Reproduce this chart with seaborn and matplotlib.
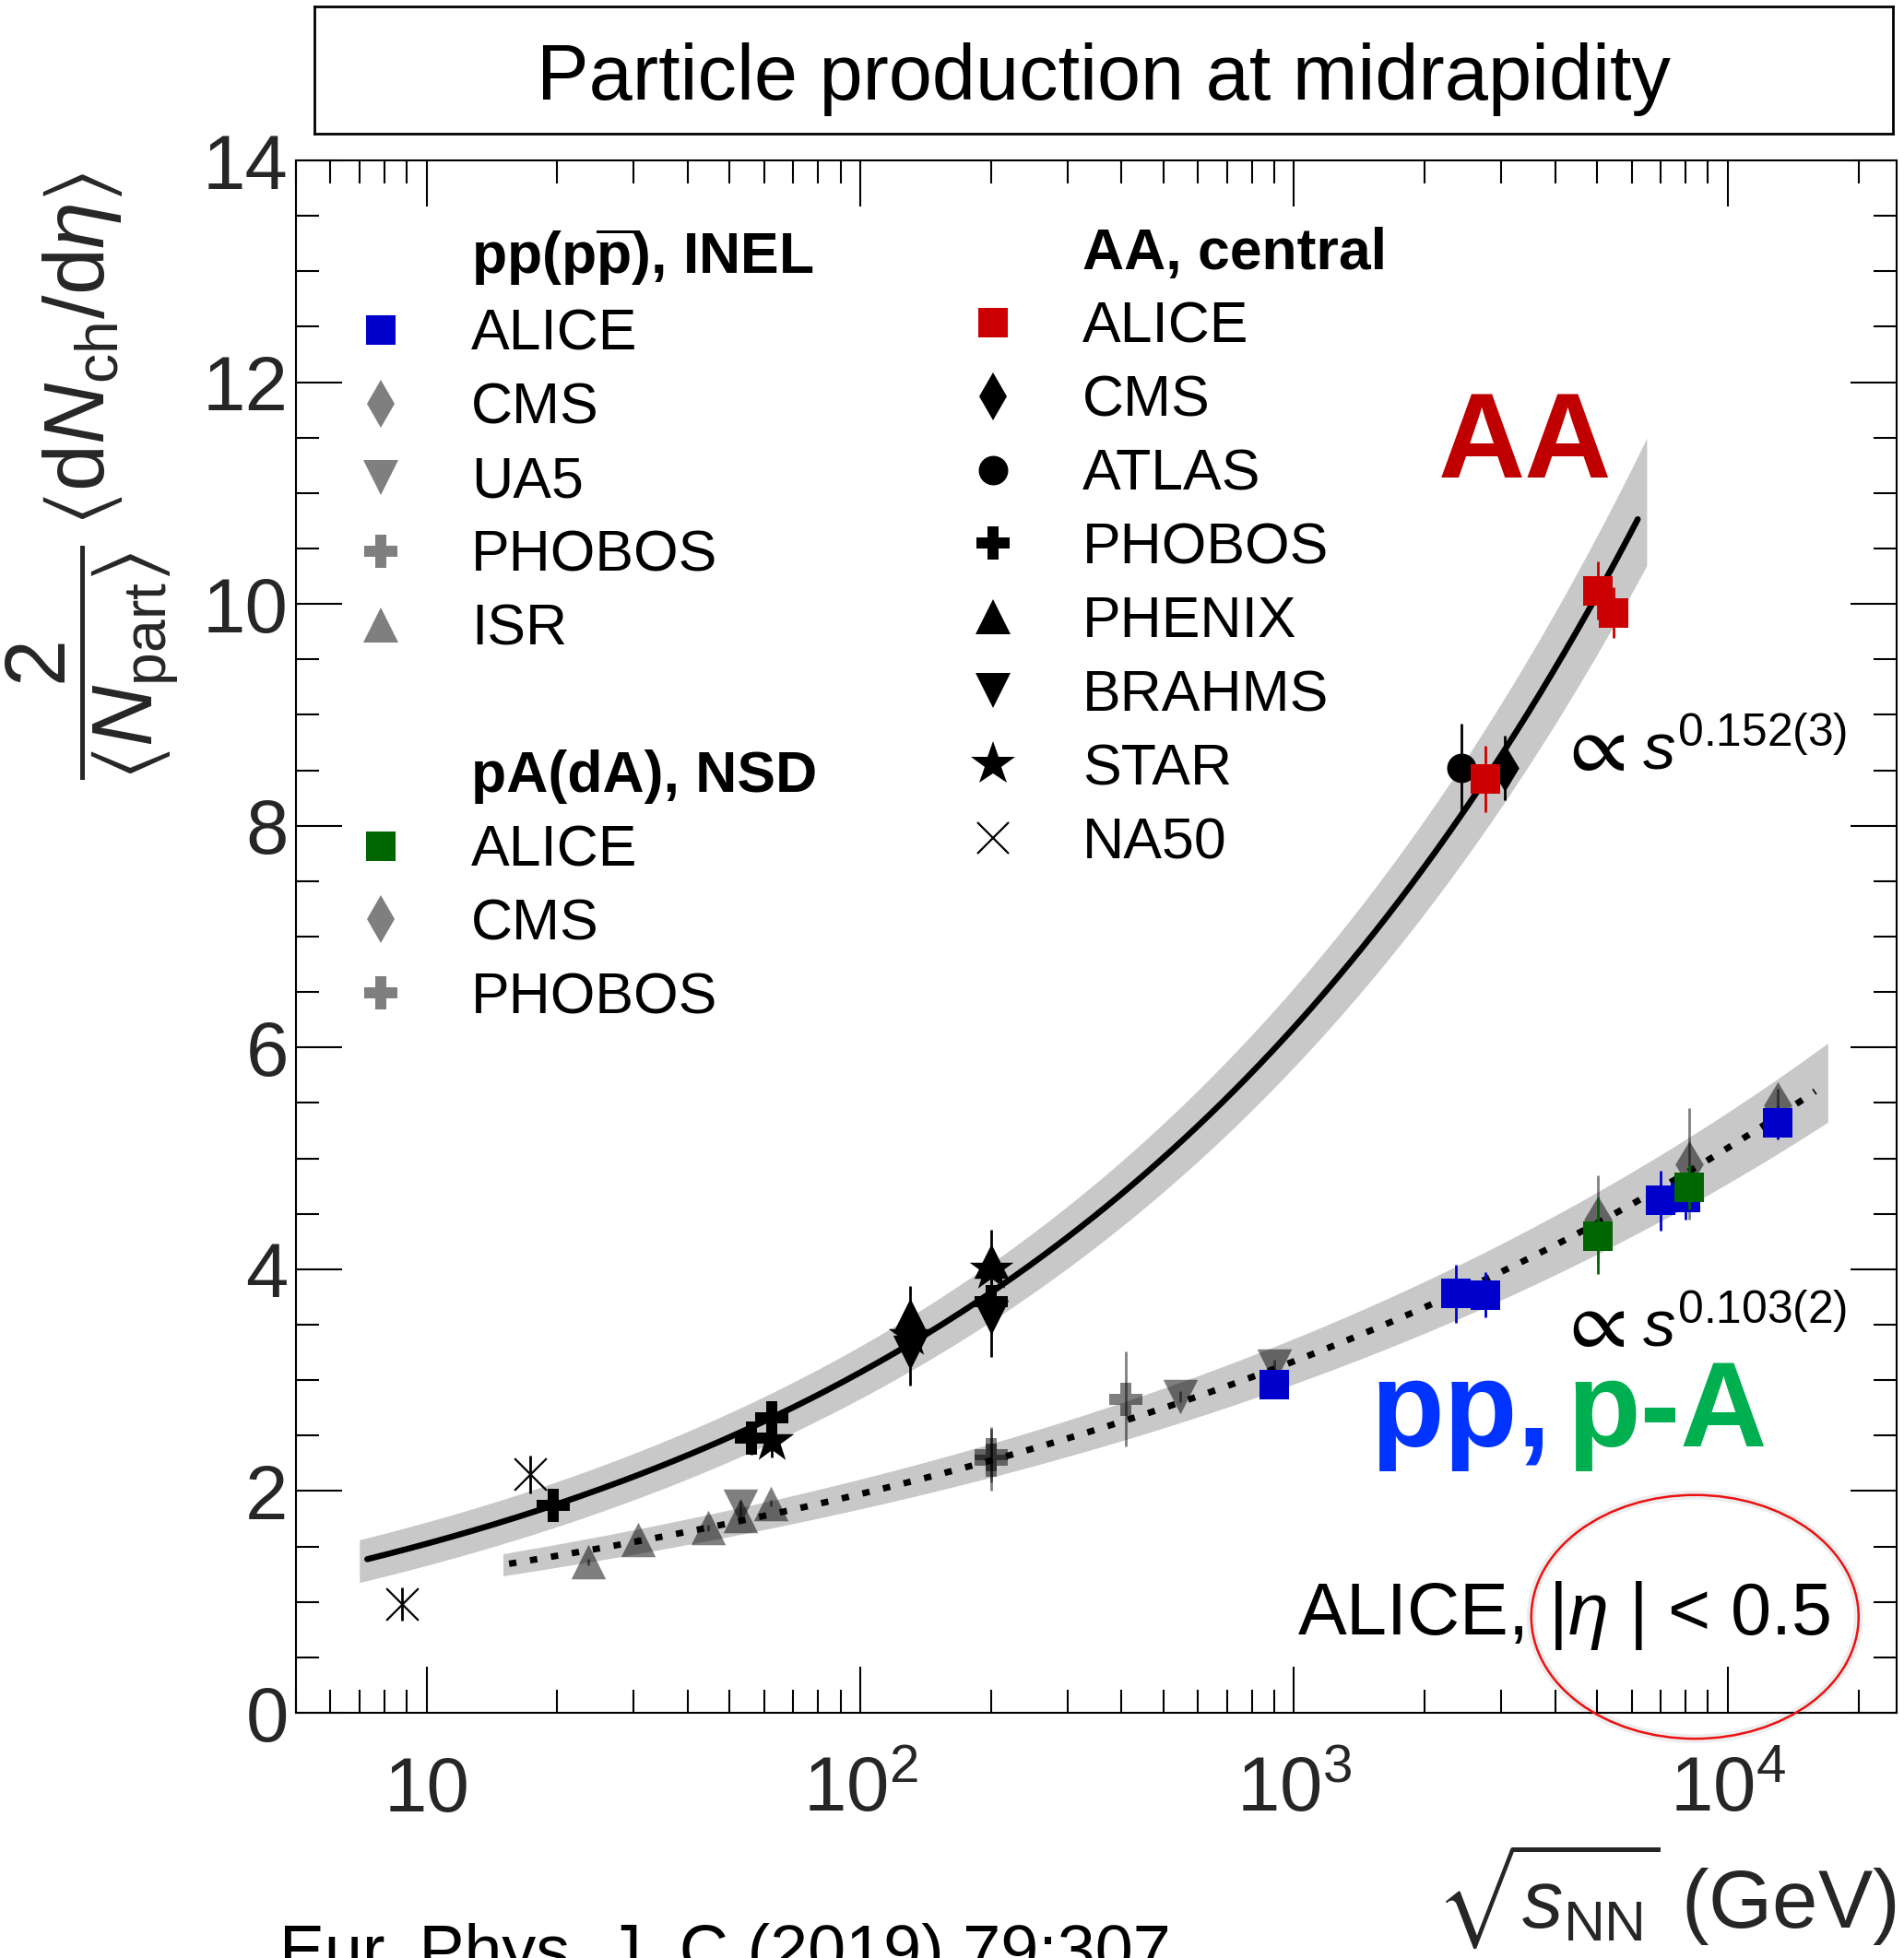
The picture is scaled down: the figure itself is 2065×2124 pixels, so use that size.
import numpy as np
import matplotlib
matplotlib.use("Agg")
import matplotlib.pyplot as plt
import seaborn as sns
from matplotlib.lines import Line2D
from matplotlib.patches import Ellipse
from matplotlib.ticker import (FixedLocator, FixedFormatter, LogLocator,
                               MultipleLocator, NullFormatter)

# ------------------------------------------------------------------ data
# AA, central collisions
aa_alice_x = [2760, 5020, 5440]
aa_alice_y = [8.42, 10.12, 9.92]
aa_alice_e = [0.30, 0.26, 0.23]
aa_cms_x = [3060]
aa_cms_y = [8.52]
aa_cms_e = [0.29]
aa_atlas_x = [2430]
aa_atlas_y = [8.52]
aa_atlas_e = [0.40]
aa_phobos_x = [19.6, 56, 62.4, 200]
aa_phobos_y = [1.87, 2.48, 2.66, 3.71]
aa_phobos_e = [0.12, 0.15, 0.15, 0.20]
aa_phenix_x = [130, 200]
aa_phenix_y = [3.58, 4.07]
aa_phenix_e = [0.27, 0.29]
aa_brahms_x = [130, 200]
aa_brahms_y = [3.25, 3.57]
aa_brahms_e = [0.30, 0.36]
aa_star_x = [62.4, 130, 200]
aa_star_y = [2.45, 3.40, 4.00]
aa_star_e = [0.15, 0.20, 0.20]
aa_na50_x = [8.77, 17.3]
aa_na50_y = [0.98, 2.15]
aa_na50_e = [0.15, 0.17]

# pp(pbar p), INEL
pp_alice_x = [900, 2360, 2760, 7000, 8000, 13000]
pp_alice_y = [2.96, 3.78, 3.77, 4.62, 4.65, 5.32]
pp_alice_e = [0.06, 0.26, 0.20, 0.27, 0.20, 0.15]
pp_cms_x = [13000]
pp_cms_y = [5.48]
pp_cms_e = [0.15]
pp_ua5_x = [53, 546, 900]
pp_ua5_y = [1.86, 2.85, 3.13]
pp_ua5_e = [0.05, 0.05, 0.05]
pp_phobos_x = [200, 410]
pp_phobos_y = [2.28, 2.83]
pp_phobos_e = [0.28, 0.43]
pp_isr_x = [23.6, 30.8, 44.6, 52.8, 62.2]
pp_isr_y = [1.36, 1.56, 1.67, 1.78, 1.89]
pp_isr_e = [0.03, 0.03, 0.03, 0.03, 0.03]

# pA(dA), NSD
pa_alice_x = [5020, 8160]
pa_alice_y = [4.30, 4.74]
pa_alice_e = [0.34, 0.20]
pa_cms_x = [5020, 8160]
pa_cms_y = [4.45, 4.95]
pa_cms_e = [0.40, 0.50]
pa_phobos_x = [200]
pa_phobos_y = [2.33]
pa_phobos_e = [0.25]

# power-law fits  dN/deta ~ s^p  (x = sqrt(s_NN))
aa_fit_exp = 0.152
aa_fit_norm = 0.757
aa_fit_range = [7.3, 6200]
aa_band_range = [7.0, 6500]
pp_fit_exp = 0.103
pp_fit_norm = 0.764
pp_fit_range = [15.5, 15900]
pp_band_range = [15.0, 17000]

# axis ticks
xtick_vals = [10, 100, 1000, 10000]
xtick_labels = ["10", r"$10^{2}$", r"$10^{3}$", r"$10^{4}$"]
ytick_vals = [0, 2, 4, 6, 8, 10, 12, 14]

# legend entries
leg_pp_labels = [r"pp(p$\overline{\mathbf{p}}$), INEL", "ALICE", "CMS", "UA5",
                 "PHOBOS", "ISR", " ", "pA(dA), NSD", "ALICE", "CMS", "PHOBOS"]
leg_aa_labels = ["AA, central", "ALICE", "CMS", "ATLAS", "PHOBOS", "PHENIX",
                 "BRAHMS", "STAR", "NA50"]

# ------------------------------------------------------------------ style
sns.set_theme(style="ticks")
plt.rcParams.update({
    "font.family": ["Liberation Sans", "DejaVu Sans"],
    "mathtext.fontset": "custom",
    "mathtext.rm": "Liberation Sans",
    "mathtext.it": "Liberation Sans:italic",
    "mathtext.bf": "Liberation Sans:bold",
    "mathtext.sf": "Liberation Sans",
    "mathtext.fallback": "stixsans",
    "axes.linewidth": 1.5,
    "axes.edgecolor": "black",
    "text.color": "black",
})

BLUE = "#0000cc"
RED = "#cc0000"
GREEN = "#006600"
BAND = "#c8c8c8"

W, H = 2065, 2124
fig = plt.figure(figsize=(W / 100, H / 100), dpi=100)
AX_L, AX_R, AX_T, AX_B = 321, 2057, 174, 1858
ax = fig.add_axes([AX_L / W, 1 - AX_B / H, (AX_R - AX_L) / W, (AX_B - AX_T) / H])
ax.set_facecolor("white")
ax.set_xscale("log")


def fit(x, norm, expo):
    return norm * np.power(x, 2 * expo)


def band(norm, expo, rng, c_abs, c_rel):
    xx = np.geomspace(rng[0], rng[1], 300)
    yy = fit(xx, norm, expo)
    hw = np.sqrt(c_abs ** 2 + (c_rel * yy) ** 2)
    ax.fill_between(xx, yy - hw, yy + hw, color=BAND, lw=0, zorder=1)


band(aa_fit_norm, aa_fit_exp, aa_band_range, 0.18, 0.05)
band(pp_fit_norm, pp_fit_exp, pp_band_range, 0.056, 0.062)


def draw(xs, ys, es, marker, color, ms, alpha=1.0, z=4, lw=0.0):
    ax.errorbar(xs, ys, yerr=es, fmt="none", ecolor=color, elinewidth=2.0,
                capsize=0, alpha=alpha, zorder=z)
    if marker == "x":
        ax.scatter(xs, ys, marker="x", s=ms ** 2, color=color,
                   linewidths=lw, alpha=alpha, zorder=z)
    else:
        sns.scatterplot(x=xs, y=ys, marker=marker, s=ms ** 2, color=color,
                        alpha=alpha, linewidth=0, ax=ax, zorder=z, legend=False)


GREY_A = 0.5
STAR_MS = 36
# grey pp / pA (semi-transparent black)
draw(pp_isr_x, pp_isr_y, pp_isr_e, "^", "black", 27, GREY_A, z=2)
draw(pp_ua5_x, pp_ua5_y, pp_ua5_e, "v", "black", 27, GREY_A, z=2)
draw(pp_phobos_x, pp_phobos_y, pp_phobos_e, "P", "black", 26, GREY_A, z=2)
draw(pa_phobos_x, pa_phobos_y, pa_phobos_e, "P", "black", 26, GREY_A, z=2)
draw(pp_cms_x, pp_cms_y, pp_cms_e, "d", "black", 26, GREY_A, z=2)
draw(pa_cms_x, pa_cms_y, pa_cms_e, "d", "black", 26, GREY_A, z=2)

# fit lines
xa = np.geomspace(aa_fit_range[0], aa_fit_range[1], 300)
sns.lineplot(x=xa, y=fit(xa, aa_fit_norm, aa_fit_exp), ax=ax, color="black",
             linewidth=4.7, zorder=3, estimator=None)
xp = np.geomspace(pp_fit_range[0], pp_fit_range[1], 300)
sns.lineplot(x=xp, y=fit(xp, pp_fit_norm, pp_fit_exp), ax=ax, color="black",
             linewidth=5.0, linestyle=(0, (1.15, 2.16)), zorder=3, estimator=None)

# AA markers
draw(aa_na50_x, aa_na50_y, aa_na50_e, "x", "black", 25, lw=1.6)
draw(aa_phobos_x, aa_phobos_y, aa_phobos_e, "P", "black", 26)
draw(aa_star_x, aa_star_y, aa_star_e, "*", "black", STAR_MS)
draw(aa_phenix_x, aa_phenix_y, aa_phenix_e, "^", "black", 27)
draw(aa_brahms_x, aa_brahms_y, aa_brahms_e, "v", "black", 27)
draw(aa_atlas_x, aa_atlas_y, aa_atlas_e, "o", "black", 23)
draw(aa_cms_x, aa_cms_y, aa_cms_e, "d", "black", 26)
draw(aa_alice_x, aa_alice_y, aa_alice_e, "s", RED, 23, z=5)
# ALICE pp and pA
draw(pp_alice_x, pp_alice_y, pp_alice_e, "s", BLUE, 23, z=5)
draw(pa_alice_x, pa_alice_y, pa_alice_e, "s", GREEN, 23, z=6)

# ------------------------------------------------------------------ axes
ax.set_xlim(5.0, 24500)
ax.set_ylim(0, 14)
ax.xaxis.set_major_locator(FixedLocator(xtick_vals))
ax.xaxis.set_major_formatter(FixedFormatter(xtick_labels))
ax.xaxis.set_minor_locator(LogLocator(base=10, subs=np.arange(2, 10)))
ax.xaxis.set_minor_formatter(NullFormatter())
ax.yaxis.set_major_locator(FixedLocator(ytick_vals))
ax.yaxis.set_minor_locator(MultipleLocator(0.5))
ax.tick_params(which="both", direction="in", top=True, right=True,
               width=1.5, color="black")
ax.tick_params(which="major", length=36)
ax.tick_params(which="minor", length=18)
ax.tick_params(axis="y", which="major", labelsize=60, pad=6)
ax.tick_params(axis="x", which="major", labelsize=60, pad=77)
for lbl in ax.get_xticklabels():
    lbl.set_va("baseline")
for sp in ax.spines.values():
    sp.set_linewidth(1.5)
    sp.set_color("black")

ax.set_xlabel(r"$\sqrt{s_{\mathrm{NN}}}$ (GeV)", fontsize=64, ha="right")
ax.xaxis.set_label_coords(1.0, -0.083)
ax.set_ylabel(r"$\dfrac{2}{\langle N_{\mathrm{part}}\rangle}\,"
              r"\langle \mathrm{d}N_{\mathrm{ch}}/\mathrm{d}\eta\rangle$",
              fontsize=66)
ax.yaxis.set_label_coords(-0.072, 0.797)

# ------------------------------------------------------------------ legends
def h(marker, color, ms, alpha=1.0, mew=0.0):
    return Line2D([], [], ls="none", marker=marker, color=color, ms=ms,
                  alpha=alpha, markeredgewidth=mew)


blank = Line2D([], [], ls="none")
leg_pp_handles = [blank, h("s", BLUE, 23), h("d", "black", 26, GREY_A),
                  h("v", "black", 27, GREY_A), h("P", "black", 26, GREY_A),
                  h("^", "black", 27, GREY_A), blank, blank, h("s", GREEN, 23),
                  h("d", "black", 26, GREY_A), h("P", "black", 26, GREY_A)]
leg_aa_handles = [blank, h("s", RED, 23), h("d", "black", 26), h("o", "black", 23),
                  h("P", "black", 26), h("^", "black", 27), h("v", "black", 27),
                  h("*", "black", STAR_MS), h("x", "black", 25, mew=1.6)]

LEG_FS = 45
common = dict(loc="upper left", frameon=False, fontsize=LEG_FS, borderpad=0,
              borderaxespad=0, handlelength=1.15, handletextpad=0.99,
              labelspacing=0.335, numpoints=1)
leg1 = ax.legend(leg_pp_handles, leg_pp_labels,
                 bbox_to_anchor=(0.0325, 0.9575), **common)
for i in (0, 7):
    leg1.get_texts()[i].set_fontweight("bold")
ax.add_artist(leg1)
leg2 = ax.legend(leg_aa_handles, leg_aa_labels,
                 bbox_to_anchor=(0.4145, 0.9575), **common)
leg2.get_texts()[0].set_fontweight("bold")

# ------------------------------------------------------------------ annotations
ax.text(2150, 11.14, "AA", color="#c00000", fontsize=94, fontweight="bold",
        ha="left", va="baseline", zorder=7)
ax.text(1500, 2.40, "pp,", color="#0033ff", fontsize=94, fontweight="bold",
        ha="left", va="baseline", zorder=7)
ax.text(4250, 2.40, "p-A", color="#00b050", fontsize=94, fontweight="bold",
        ha="left", va="baseline", zorder=7)
for y_fit, expo_txt in [(8.50, "0.152(3)"), (3.30, "0.103(2)")]:
    ax.text(4000, y_fit, r"$\propto$", fontsize=65, ha="left",
            va="baseline", zorder=7)
    ax.text(6350, y_fit, "$s^{" + expo_txt + "}$", fontsize=51, ha="left",
            va="baseline", zorder=7)
ax.text(0.9585, 0.71 / 14, r"ALICE, $|\eta\ |$ < 0.5", fontsize=57,
        ha="right", va="baseline", transform=ax.transAxes, zorder=7)
ax.add_patch(Ellipse((0.874, 0.0618), 0.2045, 0.157, transform=ax.transAxes,
                     fill=False, edgecolor=(0, 0, 0, 0.07), lw=7, clip_on=False,
                     zorder=7))
ax.add_patch(Ellipse((0.874, 0.0618), 0.2045, 0.157, transform=ax.transAxes,
                     fill=False, edgecolor="#ee1111", lw=1.8, clip_on=False,
                     zorder=8))

# title box
tax = fig.add_axes([341 / W, 1 - 145 / H, (2053 - 341) / W, (145 - 7) / H])
tax.set_xticks([])
tax.set_yticks([])
for sp in tax.spines.values():
    sp.set_linewidth(2.0)
    sp.set_color("black")
tax.text(0.5, 0.268, "Particle production at midrapidity", fontsize=61,
         ha="center", va="baseline", transform=tax.transAxes)

# citation (partly outside the page, as in the source)
fig.text(303 / W, 1 - 2140 / H, "Eur. Phys. J. C (2019) 79:307", fontsize=53,
         ha="left", va="baseline")

fig.savefig("out.png", dpi=100)
